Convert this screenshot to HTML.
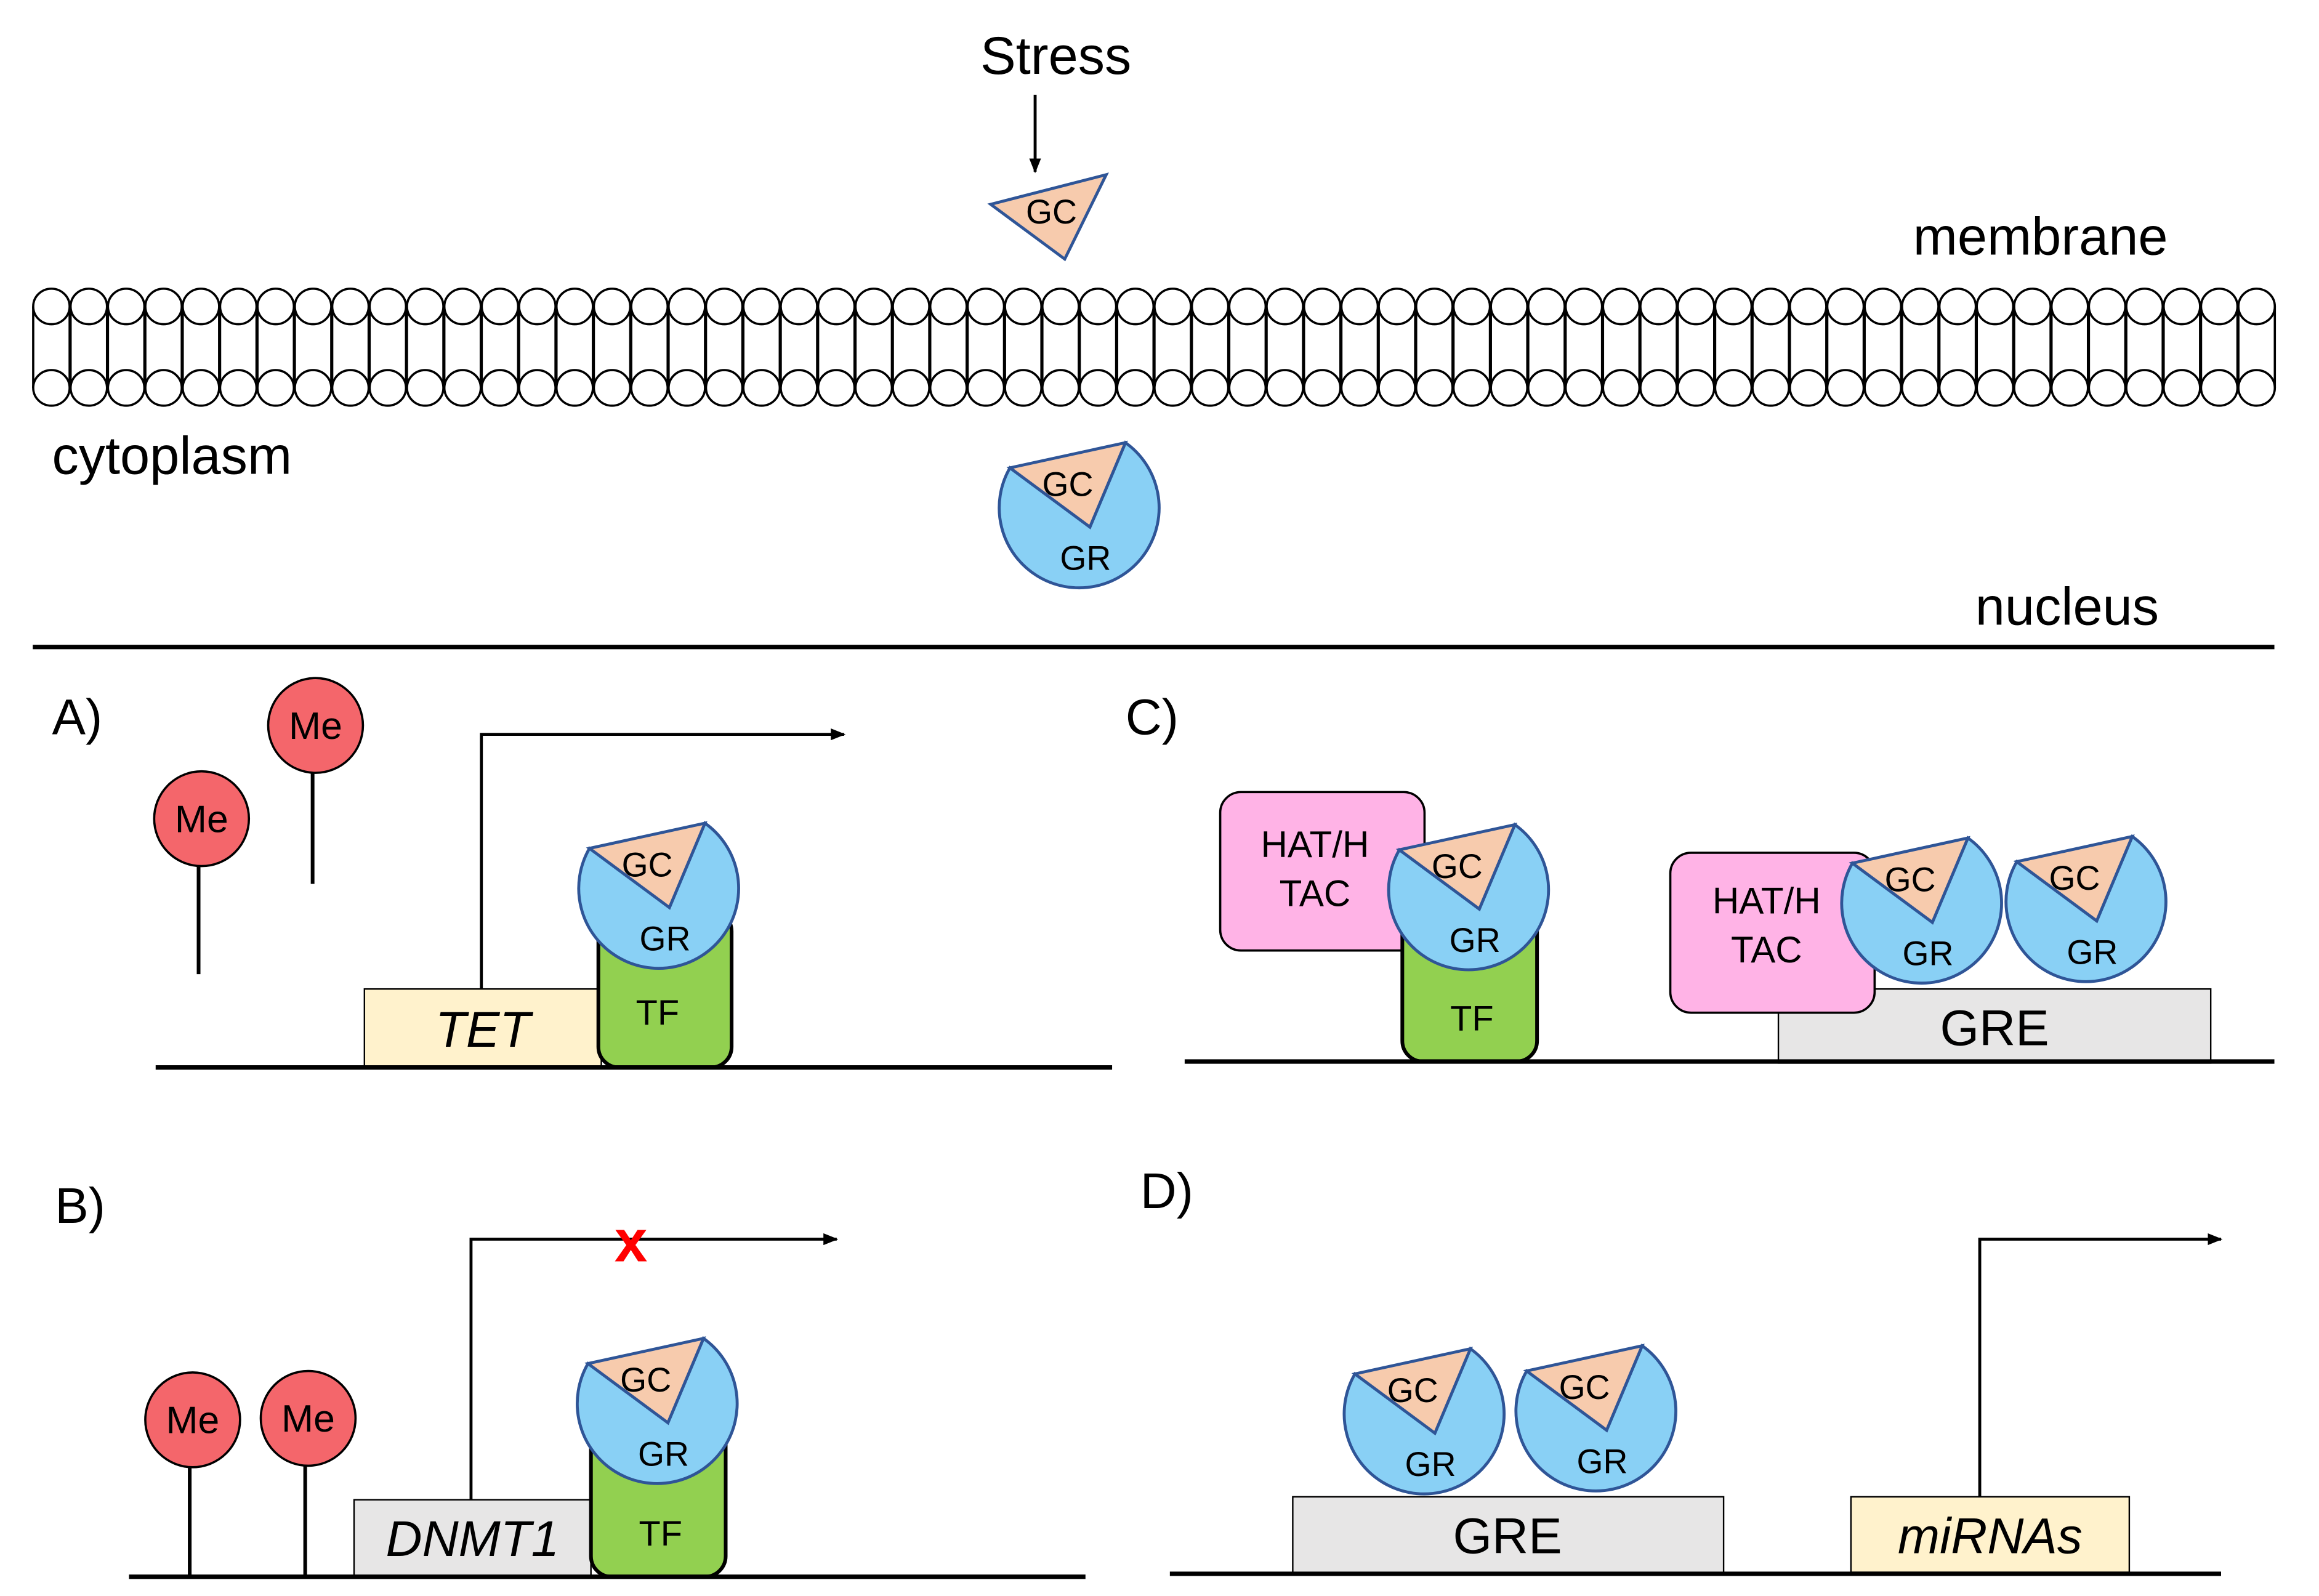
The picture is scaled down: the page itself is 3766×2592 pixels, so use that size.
<!DOCTYPE html>
<html><head><meta charset="utf-8"><style>
html,body{margin:0;padding:0;background:#fff;}
svg{display:block;}
text{font-family:"Liberation Sans",sans-serif;}
</style></head><body>
<svg id="s" width="3766" height="2592" viewBox="0 0 1566 1078" xmlns="http://www.w3.org/2000/svg">
<defs>
<marker id="ar" markerWidth="10" markerHeight="8" refX="9" refY="4" orient="auto" markerUnits="userSpaceOnUse"><path d="M0,0 L10,4 L0,8 Z" fill="#000"/></marker>
<g id="cx">
<path d="M-47,-27 L7,13 L31,-44 A54 54 0 1 1 -47,-27 Z" fill="#89d0f5" stroke="#2f5597" stroke-width="2"/>
<polygon points="-47,-27 31,-44 7,13" fill="#f7cbad" stroke="#2f5597" stroke-width="2"/>
<text x="-8" y="-8" font-size="23" text-anchor="middle">GC</text>
<text x="4" y="42" font-size="23" text-anchor="middle">GR</text>
</g>
</defs>
<text x="713" y="50" font-size="36" text-anchor="middle">Stress</text>
<line x1="699" y1="64" x2="699" y2="116" stroke="#000" stroke-width="2" marker-end="url(#ar)"/>
<polygon points="669,138 747,118 719,175" fill="#f7cbad" stroke="#2f5597" stroke-width="2"/>
<text x="710" y="151" font-size="23" text-anchor="middle">GC</text>
<text x="1378" y="172" font-size="36" text-anchor="middle">membrane</text>
<g id="mem" fill="#fff" stroke="#000" stroke-width="1.5"></g>
<text x="35" y="320" font-size="36">cytoplasm</text>
<use href="#cx" x="729" y="343"/>
<text x="1396" y="422" font-size="36" text-anchor="middle">nucleus</text>
<line x1="22" y1="437" x2="1536" y2="437" stroke="#000" stroke-width="3"/>

<!-- A -->
<text x="35" y="496" font-size="34">A)</text>
<line x1="134" y1="585" x2="134" y2="658" stroke="#000" stroke-width="2.5"/>
<circle cx="136" cy="553" r="32" fill="#f4666b" stroke="#000" stroke-width="1.5"/>
<text x="136" y="562" font-size="26" text-anchor="middle">Me</text>
<line x1="211" y1="522" x2="211" y2="597" stroke="#000" stroke-width="2.5"/>
<circle cx="213" cy="490" r="32" fill="#f4666b" stroke="#000" stroke-width="1.5"/>
<text x="213" y="499" font-size="26" text-anchor="middle">Me</text>
<rect x="246" y="668" width="160" height="53" fill="#fff2cc" stroke="#000" stroke-width="1"/>
<text x="326" y="707" font-size="34" font-style="italic" text-anchor="middle">TET</text>
<polyline points="325,668 325,496 570,496" fill="none" stroke="#000" stroke-width="2" marker-end="url(#ar)"/>
<rect x="404" y="615" width="90" height="106" rx="14" fill="#92d050" stroke="#000" stroke-width="2.5"/>
<text x="444" y="692" font-size="24" text-anchor="middle">TF</text>
<use href="#cx" x="445" y="600"/>
<line x1="105" y1="721" x2="751" y2="721" stroke="#000" stroke-width="3"/>

<!-- B -->
<text x="37" y="826" font-size="34">B)</text>
<line x1="128" y1="990" x2="128" y2="1065" stroke="#000" stroke-width="2.5"/>
<circle cx="130" cy="959" r="32" fill="#f4666b" stroke="#000" stroke-width="1.5"/>
<text x="130" y="968" font-size="26" text-anchor="middle">Me</text>
<line x1="206" y1="989" x2="206" y2="1065" stroke="#000" stroke-width="2.5"/>
<circle cx="208" cy="958" r="32" fill="#f4666b" stroke="#000" stroke-width="1.5"/>
<text x="208" y="967" font-size="26" text-anchor="middle">Me</text>
<rect x="239" y="1013" width="160" height="52" fill="#e7e6e6" stroke="#000" stroke-width="1"/>
<text x="319" y="1051" font-size="34" font-style="italic" text-anchor="middle">DNMT1</text>
<polyline points="318,1013 318,837 565,837" fill="none" stroke="#000" stroke-width="2" marker-end="url(#ar)"/>
<text x="426" y="852" font-size="40" font-weight="bold" fill="#ff0000" text-anchor="middle">x</text>
<rect x="399" y="962" width="91" height="103" rx="14" fill="#92d050" stroke="#000" stroke-width="2.5"/>
<text x="446" y="1044" font-size="24" text-anchor="middle">TF</text>
<use href="#cx" x="444" y="948"/>
<line x1="87" y1="1065" x2="733" y2="1065" stroke="#000" stroke-width="3"/>

<!-- C -->
<text x="760" y="496" font-size="34">C)</text>
<rect x="824" y="535" width="138" height="107" rx="14" fill="#ffb3e6" stroke="#000" stroke-width="1.5"/>
<text x="888" y="579" font-size="25" text-anchor="middle">HAT/H</text>
<text x="888" y="612" font-size="25" text-anchor="middle">TAC</text>
<rect x="947" y="615" width="91" height="102" rx="14" fill="#92d050" stroke="#000" stroke-width="2.5"/>
<text x="994" y="696" font-size="24" text-anchor="middle">TF</text>
<use href="#cx" x="992" y="601"/>
<rect x="1201" y="668" width="292" height="50" fill="#e7e6e6" stroke="#000" stroke-width="1"/>
<text x="1347" y="706" font-size="34" text-anchor="middle">GRE</text>
<rect x="1128" y="576" width="138" height="108" rx="14" fill="#ffb3e6" stroke="#000" stroke-width="1.5"/>
<text x="1193" y="617" font-size="25" text-anchor="middle">HAT/H</text>
<text x="1193" y="650" font-size="25" text-anchor="middle">TAC</text>
<use href="#cx" x="1298" y="610"/>
<use href="#cx" x="1409" y="609"/>
<line x1="800" y1="717" x2="1536" y2="717" stroke="#000" stroke-width="3"/>

<!-- D -->
<text x="770" y="816" font-size="34">D)</text>
<rect x="873" y="1011" width="291" height="52" fill="#e7e6e6" stroke="#000" stroke-width="1"/>
<text x="1018" y="1049" font-size="34" text-anchor="middle">GRE</text>
<use href="#cx" x="962" y="955"/>
<use href="#cx" x="1078" y="953"/>
<rect x="1250" y="1011" width="188" height="51" fill="#fff2cc" stroke="#000" stroke-width="1"/>
<text x="1344" y="1049" font-size="34" font-style="italic" text-anchor="middle">miRNAs</text>
<polyline points="1337,1011 1337,837 1500,837" fill="none" stroke="#000" stroke-width="2" marker-end="url(#ar)"/>
<line x1="790" y1="1063" x2="1500" y2="1063" stroke="#000" stroke-width="3"/>
</svg>
<script>
var g=document.getElementById('mem'),h='';
var n=60,x0=34.6,dx=(1524-34.6)/(n-1);
for(var i=0;i<n;i++){var x=x0+i*dx;
h+='<line x1="'+(x-12.3)+'" y1="207" x2="'+(x-12.3)+'" y2="262"/>';
h+='<line x1="'+(x+12.3)+'" y1="207" x2="'+(x+12.3)+'" y2="262"/>';}
for(var i=0;i<n;i++){var x=x0+i*dx;
h+='<ellipse cx="'+x+'" cy="207" rx="12.3" ry="12"/>';
h+='<ellipse cx="'+x+'" cy="262" rx="12.3" ry="12"/>';}
g.innerHTML=h;
</script>
</body></html>
